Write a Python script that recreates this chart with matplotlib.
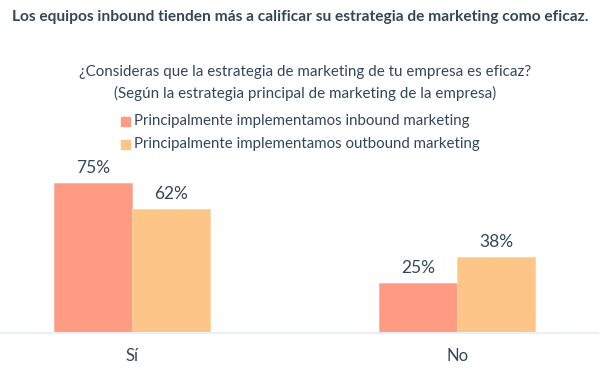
import matplotlib
matplotlib.use("Agg")
import matplotlib.pyplot as plt
from matplotlib.patches import Rectangle

categories = ["Sí", "No"]
series_names = ["Principalmente implementamos inbound marketing",
                "Principalmente implementamos outbound marketing"]
inbound = [75, 25]
outbound = [62, 38]
value_labels_in = ["75%", "25%"]
value_labels_out = ["62%", "38%"]

TXT = "#33475b"
C_IN = "#ff9a83"
C_OUT = "#fdc588"
FONT = ["Lato", "DejaVu Sans"]

fig = plt.figure(figsize=(6, 3.75), dpi=100)
fig.patch.set_facecolor("white")

ax = fig.add_axes([0, 42/375, 0.997, 200/375])
x = [0, 1]
w = 0.24
b1 = ax.bar([xi - w/2 for xi in x], inbound, width=w, color=C_IN, edgecolor="#ffb3a0", linewidth=0.6)
b2 = ax.bar([xi + w/2 for xi in x], outbound, width=w, color=C_OUT, edgecolor="#fdd3a5", linewidth=0.6)
for rects, labs in ((b1, value_labels_in), (b2, value_labels_out)):
    for r, lab in zip(rects, labs):
        ax.text(r.get_x() + r.get_width()/2, r.get_height() + 3.5, lab,
                ha="center", va="bottom", fontsize=12.5, color=TXT, family=FONT)

ax.set_xlim(-132/325, 1 + 141/325)
ax.set_ylim(0, 100)
ax.set_xticks(x)
ax.set_xticklabels(categories, fontsize=12, color=TXT, family=FONT)
ax.tick_params(axis="x", length=0, pad=11)
ax.set_yticks([])
for s in ["top", "right", "left"]:
    ax.spines[s].set_visible(False)
ax.spines["bottom"].set_color("#e8eff5")
ax.spines["bottom"].set_linewidth(1.5)
ax.patch.set_alpha(0)

fig.text(12/600, 1 - 17/375, "Los equipos inbound tienden más a calificar su estrategia de marketing como eficaz.",
         ha="left", va="center", fontsize=11.2, fontweight="bold", color=TXT, family=FONT)
fig.text(0.508, 1 - 72/375, "¿Consideras que la estrategia de marketing de tu empresa es eficaz?",
         ha="center", va="center", fontsize=10.9, color=TXT, family=FONT)
fig.text(0.508, 1 - 93/375, "(Según la estrategia principal de marketing de la empresa)",
         ha="center", va="center", fontsize=10.9, color=TXT, family=FONT)

for i, (name, c) in enumerate(zip(series_names, [C_IN, C_OUT])):
    yc = 1 - (121 + 23*i)/375
    fig.patches.append(Rectangle((121/600, yc - 4.5/375), 9/600, 9/375,
                                 transform=fig.transFigure, color=c, figure=fig))
    fig.text(134/600, yc, name, ha="left", va="center", fontsize=10.85, color=TXT, family=FONT)

fig.savefig("out.png", dpi=100, facecolor="white")
